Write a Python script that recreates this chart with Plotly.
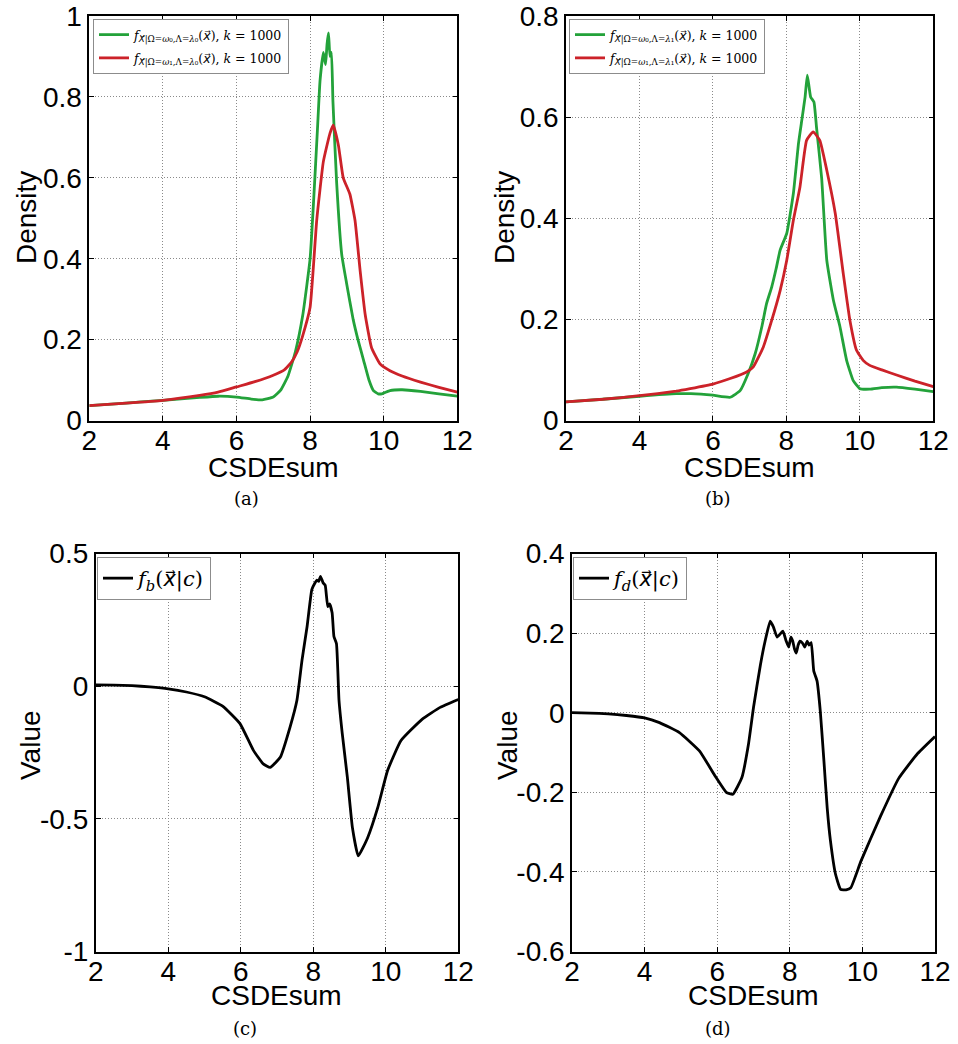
import plotly.graph_objects as go

xa_green = [2.0, 3.0, 4.0, 5.0, 5.5, 6.0, 6.4, 6.7, 7.0, 7.2, 7.4, 7.6, 7.8, 8.0, 8.1, 8.2, 8.27, 8.36, 8.42,
            8.46, 8.50, 8.54, 8.58, 8.62, 8.72, 8.86, 8.99, 9.17, 9.3, 9.45, 9.6, 9.72, 9.85, 9.95, 10.17,
            10.5, 11.0, 11.5, 12.0]
ya_green = [0.037, 0.043, 0.050, 0.057, 0.060, 0.058, 0.053, 0.051, 0.058, 0.075, 0.11, 0.17, 0.26, 0.40, 0.55,
            0.72, 0.84, 0.91, 0.88, 0.93, 0.958, 0.90, 0.91, 0.79, 0.59, 0.41, 0.34, 0.25, 0.20, 0.15, 0.10,
            0.074, 0.066, 0.066, 0.074, 0.076, 0.072, 0.066, 0.060]
xa_red = [2.0, 3.0, 4.0, 5.0, 5.5, 6.0, 6.5, 7.0, 7.3, 7.5, 7.65, 7.8, 8.0, 8.18, 8.36, 8.54, 8.63, 8.77,
          8.90, 9.08, 9.22, 9.36, 9.5, 9.67, 9.9, 10.17, 10.5, 11.0, 11.5, 12.0]
ya_red = [0.037, 0.043, 0.050, 0.062, 0.070, 0.083, 0.096, 0.112, 0.125, 0.145, 0.17, 0.21, 0.28, 0.495,
          0.64, 0.71, 0.73, 0.68, 0.60, 0.56, 0.495, 0.37, 0.26, 0.18, 0.14, 0.123, 0.11, 0.095, 0.082, 0.07]

xb_green = [2.0, 3.0, 4.0, 5.0, 5.4, 6.0, 6.47, 6.74, 6.96, 7.15, 7.33, 7.46, 7.60, 7.72, 7.83, 8.01, 8.19,
            8.33, 8.42, 8.51, 8.57, 8.66, 8.75, 8.82, 8.96, 9.10, 9.28, 9.46, 9.64, 9.82, 10.0, 10.27, 10.6,
            11.0, 11.5, 12.0]
yb_green = [0.037, 0.042, 0.048, 0.053, 0.053, 0.050, 0.046, 0.059, 0.093, 0.132, 0.185, 0.231, 0.264, 0.30,
            0.337, 0.37, 0.449, 0.548, 0.594, 0.64, 0.683, 0.64, 0.63, 0.58, 0.48, 0.317, 0.238, 0.185, 0.119,
            0.079, 0.063, 0.062, 0.065, 0.066, 0.062, 0.057]
xb_red = [2.0, 3.0, 4.0, 5.0, 5.38, 6.0, 6.47, 6.92, 7.10, 7.37, 7.60, 7.83, 8.01, 8.19, 8.37, 8.55, 8.73,
          8.91, 9.10, 9.33, 9.55, 9.73, 9.91, 10.09, 10.27, 10.6, 11.0, 11.5, 12.0]
yb_red = [0.037, 0.042, 0.049, 0.058, 0.063, 0.072, 0.083, 0.096, 0.106, 0.145, 0.198, 0.257, 0.317, 0.396,
          0.462, 0.554, 0.571, 0.554, 0.495, 0.41, 0.29, 0.198, 0.139, 0.119, 0.109, 0.100, 0.090, 0.078, 0.067]

xc = [2.0, 2.5, 3.0, 3.5, 4.0, 4.5, 5.0, 5.5, 5.98, 6.35, 6.62, 6.81, 7.09, 7.36, 7.55, 7.69, 7.83, 7.96, 8.05,
      8.1, 8.15, 8.2, 8.27, 8.33, 8.40, 8.45, 8.52, 8.57, 8.64, 8.71, 8.80, 8.94, 9.08, 9.24, 9.50, 9.78,
      10.05, 10.42, 11.0, 11.5, 12.0]
yc = [0.005, 0.004, 0.002, -0.003, -0.010, -0.022, -0.040, -0.075, -0.141, -0.242, -0.293, -0.306, -0.268,
      -0.154, -0.053, 0.098, 0.225, 0.364, 0.39, 0.40, 0.395, 0.414, 0.39, 0.38, 0.30, 0.31, 0.277, 0.187,
      0.16, -0.053, -0.179, -0.343, -0.533, -0.64, -0.571, -0.457, -0.318, -0.205, -0.125, -0.08, -0.05]

xd = [2.0, 2.5, 3.0, 3.5, 4.0, 4.41, 4.96, 5.51, 5.97, 6.25, 6.43, 6.68, 6.86, 7.0, 7.19, 7.32, 7.46, 7.55,
      7.65, 7.81, 7.90, 7.97, 8.03, 8.08, 8.13, 8.18, 8.23, 8.28, 8.35, 8.41, 8.48, 8.53, 8.59, 8.66, 8.75,
      8.84, 8.94, 9.03, 9.12, 9.26, 9.40, 9.55, 9.68, 9.96, 10.5, 11.0, 11.5, 12.0]
yd = [0.000, -0.001, -0.003, -0.007, -0.013, -0.025, -0.05, -0.096, -0.163, -0.20, -0.205, -0.163, -0.08,
      0.013, 0.12, 0.18, 0.23, 0.215, 0.19, 0.205, 0.18, 0.165, 0.19, 0.18, 0.16, 0.15, 0.17, 0.18, 0.175,
      0.165, 0.18, 0.17, 0.176, 0.105, 0.08, 0.004, -0.121, -0.239, -0.322, -0.406, -0.444, -0.445, -0.44,
      -0.373, -0.26, -0.165, -0.105, -0.06]

x_ticks = [2, 4, 6, 8, 10, 12]
ya_ticks = [0, 0.2, 0.4, 0.6, 0.8, 1]
ya_text = ["0", "0.2", "0.4", "0.6", "0.8", "1"]
yb_ticks = [0, 0.2, 0.4, 0.6, 0.8]
yb_text = ["0", "0.2", "0.4", "0.6", "0.8"]
yc_ticks = [-1, -0.5, 0, 0.5]
yc_text = ["-1", "-0.5", "0", "0.5"]
yd_ticks = [-0.6, -0.4, -0.2, 0, 0.2, 0.4]
yd_text = ["-0.6", "-0.4", "-0.2", "0", "0.2", "0.4"]

GREEN = "#23a23a"
RED = "#cc2229"
W = 958
H = 1044

VX = "<span style=\"font-family:'DejaVu Sans'\"><i>X</i>\u20d7</span>"
vx = "<span style=\"font-family:'DejaVu Sans'\"><i>x</i>\u20d7</span>"
leg_a_g = "<i>f</i><sub>" + VX + "|Ω=<i>ω</i>₀,Λ=<i>λ</i>₀</sub>(" + vx + "), <i>k</i> = 1000"
leg_a_r = "<i>f</i><sub>" + VX + "|Ω=<i>ω</i>₁,Λ=<i>λ</i>₀</sub>(" + vx + "), <i>k</i> = 1000"
leg_b_g = "<i>f</i><sub>" + VX + "|Ω=<i>ω</i>₀,Λ=<i>λ</i>₁</sub>(" + vx + "), <i>k</i> = 1000"
leg_b_r = "<i>f</i><sub>" + VX + "|Ω=<i>ω</i>₁,Λ=<i>λ</i>₁</sub>(" + vx + "), <i>k</i> = 1000"
leg_c = "<i>f</i><sub><i>b</i></sub>(" + vx + "|<i>c</i>)"
leg_d = "<i>f</i><sub><i>d</i></sub>(" + vx + "|<i>c</i>)"

SMOOTH = 0.4
fig = go.Figure()
series = [
    (xa_green, ya_green, GREEN, leg_a_g, "x", "y", "legend"),
    (xa_red, ya_red, RED, leg_a_r, "x", "y", "legend"),
    (xb_green, yb_green, GREEN, leg_b_g, "x2", "y2", "legend2"),
    (xb_red, yb_red, RED, leg_b_r, "x2", "y2", "legend2"),
    (xc, yc, "black", leg_c, "x3", "y3", "legend3"),
    (xd, yd, "black", leg_d, "x4", "y4", "legend4"),
]
for i, (xs, ys, col, nm, xa, ya, lg) in enumerate(series):
    fig.add_trace(go.Scatter(x=xs, y=ys, mode="lines",
                             line=dict(color=col, width=2.8, shape="spline", smoothing=SMOOTH),
                             name=nm, xaxis=xa, yaxis=ya, legend=lg, legendgroup="g%d" % i))

TICKFONT = dict(family="Liberation Sans, Arial", size=28, color="black")
TITLEFONT = dict(family="Liberation Sans, Arial", size=28, color="black")
GRID = dict(showgrid=True, gridcolor="#8a8a8a", griddash="1px,2px", gridwidth=1)


def xax(domain, anchor):
    return dict(domain=domain, anchor=anchor, range=[2, 12], tickvals=x_ticks,
                ticktext=[str(v) for v in x_ticks], showline=True, mirror="ticks", linecolor="black",
                linewidth=1.6, ticks="inside", ticklen=5, tickcolor="black", zeroline=False,
                tickfont=TICKFONT, automargin=False, ticklabelstandoff=-6, **GRID)


def yax(domain, anchor, rng, tv, tt):
    return dict(domain=domain, anchor=anchor, range=rng, tickvals=tv, ticktext=tt, showline=True,
                mirror="ticks", linecolor="black", linewidth=1.6, ticks="inside", ticklen=5,
                tickcolor="black", zeroline=False, tickfont=TICKFONT, automargin=False, **GRID)


top_dom = [1 - 420.5 / H, 1 - 16 / H]
bot_dom = [1 - 951.5 / H, 1 - 553.5 / H]


def legend_at(xpx, ypx, size, gap):
    return dict(x=xpx / W, y=1 - ypx / H, xanchor="left", yanchor="top", bgcolor="white",
                bordercolor="#8c8c8c", borderwidth=1, font=dict(family="DejaVu Serif", size=size, color="black"),
                tracegroupgap=gap, traceorder="grouped", itemwidth=30)


fig.update_layout(
    width=W, height=H, margin=dict(l=0, r=0, t=0, b=0, pad=0, autoexpand=False),
    paper_bgcolor="white", plot_bgcolor="white",
    showlegend=True,
    xaxis=xax([89.3 / W, 457.3 / W], "y"),
    yaxis=yax(top_dom, "x", [0, 1], ya_ticks, ya_text),
    xaxis2=xax([566 / W, 933.3 / W], "y2"),
    yaxis2=yax(top_dom, "x2", [0, 0.8], yb_ticks, yb_text),
    xaxis3=xax([95.7 / W, 458.3 / W], "y3"),
    yaxis3=yax(bot_dom, "x3", [-1, 0.5], yc_ticks, yc_text),
    xaxis4=xax([572 / W, 935 / W], "y4"),
    yaxis4=yax(bot_dom, "x4", [-0.6, 0.4], yd_ticks, yd_text),
    legend=legend_at(93, 19, 12.5, 4),
    legend2=legend_at(569, 19, 12.5, 4),
    legend3=legend_at(97, 557, 21, 0),
    legend4=legend_at(573, 557, 21, 0),
)

# axis titles
for txt, xp, yp, ang in [("CSDEsum", 273, 467, 0), ("CSDEsum", 749, 467, 0),
                         ("CSDEsum", 276, 996, 0), ("CSDEsum", 753, 996, 0),
                         ("Density", 27, 218, -90), ("Density", 505, 218, -90),
                         ("Value", 30, 745, -90), ("Value", 507, 745, -90)]:
    fig.add_annotation(text=txt, x=xp / W, y=1 - yp / H, xref="paper", yref="paper", showarrow=False,
                       font=TITLEFONT, xanchor="center", yanchor="middle", textangle=ang)

CAP = dict(family="DejaVu Serif, Liberation Serif", size=18, color="black")
for txt, xp, yp in [("(a)", 246, 499), ("(b)", 718, 499), ("(c)", 245, 1028), ("(d)", 718, 1028)]:
    fig.add_annotation(text=txt, x=xp / W, y=1 - yp / H, xref="paper", yref="paper", showarrow=False,
                       font=CAP, xanchor="center", yanchor="middle")

fig.write_html("out.html")
